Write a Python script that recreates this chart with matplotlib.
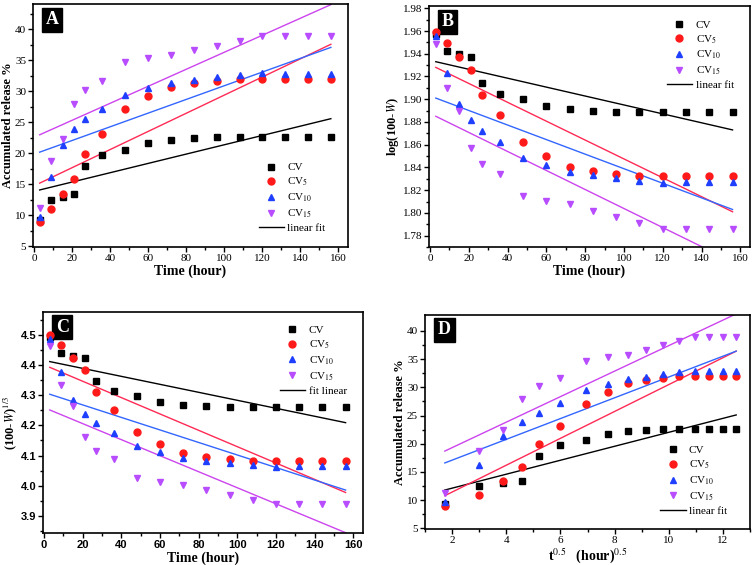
import numpy as np
import matplotlib
matplotlib.use('Agg')
import matplotlib.pyplot as plt

plt.rcParams['font.family'] = ['Liberation Serif', 'DejaVu Serif']
plt.rcParams['mathtext.fontset'] = 'stix'

# sampling times (hour)
time_h = [3, 9, 15, 21, 27, 36, 48, 60, 72, 84, 96, 108, 120, 132, 144, 156]

# accumulated release W (%)
cv = [9.3, 12.5, 13.0, 13.4, 17.9, 19.7, 20.6, 21.7, 22.2, 22.5, 22.6, 22.6, 22.6, 22.6, 22.6, 22.6]
cv5 = [8.9, 11.0, 13.4, 15.8, 19.9, 23.1, 27.1, 29.2, 30.7, 31.3, 31.7, 32.0, 32.0, 32.0, 32.0, 32.0]
cv10 = [9.7, 16.2, 21.3, 23.9, 25.5, 27.2, 29.5, 30.5, 31.4, 31.9, 32.3, 32.7, 32.9, 32.8, 32.8, 32.8]
cv15 = [11.2, 18.7, 22.4, 28.0, 30.3, 31.7, 34.7, 35.4, 35.8, 36.6, 37.4, 38.2, 38.9, 38.9, 38.9, 38.9]

series_names = ['CV', 'CV$_{5}$', 'CV$_{10}$', 'CV$_{15}$']
marker_colors = ['black', '#ff1a1a', '#1f3fff', '#b84dff']
line_colors = ['black', '#ff2a55', '#3366ff', '#cc44ee']
markers = ['s', 'o', '^', 'v']

# fitted line end values (first and last point)
fit_a = [(14.1, 25.6), (15.2, 37.6), (20.2, 37.1), (23.0, 44.0)]
fit_b = [(1.933, 1.873), (1.928, 1.801), (1.901, 1.803), (1.885, 1.757)]
fit_c = [(4.411, 4.209), (4.392, 3.978), (4.303, 3.986), (4.251, 3.845)]
fit_d = [(11.8, 25.1), (10.8, 36.4), (16.6, 36.4), (18.7, 43.0)]

t = np.array(time_h, dtype=float)
w_all = [np.array(s) for s in (cv, cv5, cv10, cv15)]


def draw_panel(ax, x, ys, fits, letter, xlim, ylim, ylabel, xlabel, fit_label, legend_loc, legend_anchor):
    for i, y in enumerate(ys):
        ax.plot(x, y, linestyle='none', marker=markers[i], color=marker_colors[i],
                markersize=5, label=series_names[i], clip_on=False, zorder=3)
    for i, (y0, y1) in enumerate(fits):
        ax.plot([x[0], x[-1]], [y0, y1], color=line_colors[i], lw=1.0,
                label=fit_label if i == 0 else None, zorder=2)
    ax.set_xlim(xlim)
    ax.set_ylim(ylim)
    ax.set_xlabel(xlabel, fontsize=10, fontweight='bold', labelpad=1)
    ax.set_ylabel(ylabel, fontsize=9, fontweight='bold', labelpad=1)
    ax.tick_params(which='major', direction='out', length=3.5, width=1, labelsize=8, pad=1.5)
    ax.tick_params(which='minor', direction='out', length=2, width=1)
    for sp in ax.spines.values():
        sp.set_linewidth(1.2)
    ax.text(0.04, 0.97, letter, transform=ax.transAxes, fontsize=13, fontweight='bold',
            color='white', va='top', ha='left', zorder=1.5,
            bbox=dict(boxstyle='square,pad=0.2', facecolor='black', edgecolor='black'))
    h, l = ax.get_legend_handles_labels()
    ax.legend(h, l, loc=legend_loc, bbox_to_anchor=legend_anchor, frameon=False,
              fontsize=8, handlelength=2.3, labelspacing=0.3, handletextpad=0.3,
              borderaxespad=0.2)


fig = plt.figure(figsize=(7.56, 5.65), dpi=100)
W, H = 756, 565


def add_ax(l, t_, r, b):
    return fig.add_axes([l / W, 1 - b / H, (r - l) / W, (b - t_) / H])


ax_a = add_ax(33, 4, 348, 247)
ax_b = add_ax(429, 6, 750, 247)
ax_c = add_ax(43, 312, 363, 533)
ax_d = add_ax(425, 315, 750, 529)

time_ticks = [0, 20, 40, 60, 80, 100, 120, 140, 160]
time_minor = np.arange(10, 165, 20)

draw_panel(ax_a, t, w_all, fit_a, 'A', (-0.5, 165), (4.9, 44.1),
           'Accumulated release %', 'Time (hour)', 'linear fit', 'lower right', (0.95, 0.03))
ax_a.set_yticks([5, 10, 15, 20, 25, 30, 35, 40])
ax_a.set_yticks(np.arange(7.5, 44, 5), minor=True)

draw_panel(ax_b, t, [np.log10(100 - w) for w in w_all], fit_b, 'B', (-0.5, 165), (1.770, 1.982),
           'log(100-$\\mathit{W}$)', 'Time (hour)', 'linear fit', 'upper right', (0.97, 0.97))
ax_b.set_yticks(np.arange(1.78, 1.981, 0.02))
ax_b.set_yticks(np.arange(1.77, 1.982, 0.02), minor=True)
ax_b.yaxis.set_major_formatter(matplotlib.ticker.FormatStrFormatter('%.2f'))

draw_panel(ax_c, t, [(100 - w) ** (1 / 3) for w in w_all], fit_c, 'C', (-0.5, 165), (3.844, 4.575),
           '(100-$\\mathit{W}$)$^{1/3}$', 'Time (hour)', 'fit linear', 'upper right', (0.97, 0.97))
ax_c.set_yticks([3.9, 4.0, 4.1, 4.2, 4.3, 4.4, 4.5])
ax_c.set_yticks(np.arange(3.85, 4.58, 0.1), minor=True)
ax_c.yaxis.set_major_formatter(matplotlib.ticker.FormatStrFormatter('%.1f'))

for ax in (ax_a, ax_b, ax_c):
    ax.set_xticks(time_ticks)
    ax.set_xticks(time_minor, minor=True)

for lab in ax_c.get_xticklabels() + ax_c.get_yticklabels():
    lab.set_family(['Liberation Sans', 'DejaVu Sans'])
    lab.set_fontweight('bold')

draw_panel(ax_d, np.sqrt(t), w_all, fit_d, 'D', (1.0, 13.0), (4.9, 42.8),
           'Accumulated release %', 't$^{0.5}$   (hour)$^{0.5}$', 'linear fit', 'lower right', (0.95, 0.03))
ax_d.set_yticks([5, 10, 15, 20, 25, 30, 35, 40])
ax_d.set_yticks(np.arange(7.5, 42, 5), minor=True)
ax_d.set_xticks([2, 4, 6, 8, 10, 12])
ax_d.set_xticks(np.arange(1, 13.1, 1), minor=True)

fig.savefig('out.png', dpi=100)
